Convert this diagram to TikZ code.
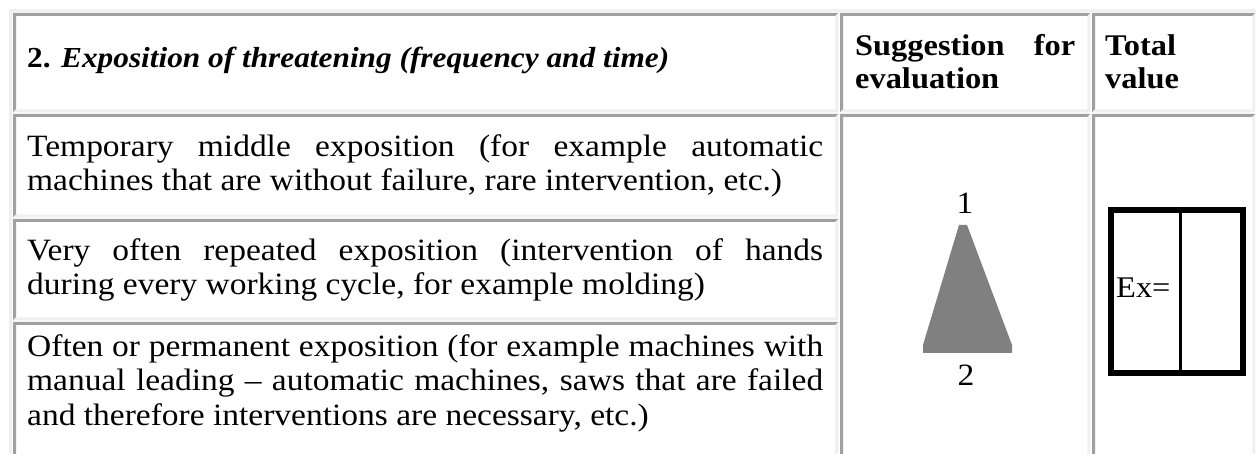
\documentclass[tikz,border=0pt]{standalone}
\usepackage{fontspec}
\setmainfont{Liberation Serif}[FakeStretch=1.08]
\definecolor{rimdark}{HTML}{A0A0A0}
\definecolor{rimlight}{HTML}{F0F0F0}
\definecolor{spike}{HTML}{808080}
\tikzset{
  cell/.style={rectangle, fill=white, inner sep=0pt, anchor=north west},
  txt/.style={inner sep=0pt, anchor=west, font=\fontsize{31}{34.5}\selectfont},
  par/.style={txt, align=justify, text width=#1},
}
\begin{document}
\begin{tikzpicture}[x=1pt,y=-1pt]
  \useasboundingbox (0,0) rectangle (1256,454);
  \clip (0,0) rectangle (1256,454);
  \fill[white] (0,0) rectangle (1256,454);
  % outer rim of the table
  \fill[rimlight] (9,480) -- (9,9) -- (1262,9) -- (1262,12) -- (12,12) -- (12,480) -- cycle;

  % cells
  \node[cell, minimum width=825pt, minimum height=99pt]  (h1) at (13,13)   {};
  \node[cell, minimum width=250pt, minimum height=99pt]  (h2) at (840,13)  {};
  \node[cell, minimum width=163pt, minimum height=99pt]  (h3) at (1092,13) {};
  \node[cell, minimum width=825pt, minimum height=103pt] (r1) at (13,114)  {};
  \node[cell, minimum width=825pt, minimum height=101pt] (r2) at (13,219)  {};
  \node[cell, minimum width=825pt, minimum height=150pt] (r3) at (13,322)  {};
  \node[cell, minimum width=250pt, minimum height=358pt] (c2) at (840,114) {};
  \node[cell, minimum width=163pt, minimum height=358pt] (c3) at (1092,114) {};

  \foreach \c in {h1,h2,h3,r1,r2,r3,c2,c3}{
    \fill[rimdark] (\c.south west) -- (\c.north west) -- (\c.north east)
      -- ([shift={(-3pt,-3pt)}]\c.north east) -- ([shift={(3pt,-3pt)}]\c.north west)
      -- ([shift={(3pt,3pt)}]\c.south west) -- cycle;
    \fill[rimlight] (\c.south west) -- (\c.south east) -- (\c.north east)
      -- ([shift={(-3pt,-3pt)}]\c.north east) -- ([shift={(-3pt,3pt)}]\c.south east)
      -- ([shift={(3pt,3pt)}]\c.south west) -- cycle;
  }

  % header
  \node[txt, font=\fontsize{29}{34.5}\selectfont\bfseries] (hd1) at (27,60)
    {2. \textit{Exposition of threatening (frequency and time)}};
  \node[par=220pt, font=\fontsize{30}{33}\selectfont\bfseries] (hd2) at (855,62)
    {Suggestion for\linebreak evaluation};
  \node[txt, align=left, font=\fontsize{30}{33}\selectfont\bfseries] (hd3) at (1105,62)
    {Total\\value};

  % rows
  \node[par=796pt] (t1) at (27,166)
    {Temporary middle exposition (for example automatic\linebreak
     machines that are without failure, rare intervention, etc.)};
  \node[par=796pt] (t2) at (27,270)
    {Very often repeated exposition (intervention of hands\linebreak
     during every working cycle, for example molding)};
  \node[par=796pt] (t3) at (27,383)
    {Often or permanent exposition (for example machines with\linebreak
     manual leading -- automatic machines, saws that are failed\linebreak
     and therefore interventions are necessary, etc.)};

  % scale
  \node[txt, anchor=center] (one) at (965,203) {1};
  \node[txt, anchor=center] (two) at (966,375) {2};
  \fill[spike] (923,353) -- (923,345) -- (959,225) -- (967,225)
    -- (1012,345) -- (1012,353) -- cycle;

  % result box
  \node[draw, line width=6pt, inner sep=0pt, anchor=north west,
        minimum width=132pt, minimum height=163pt] (exbox) at (1108,207) {};
  \draw[line width=3pt] ([xshift=3.5pt]exbox.north) -- ([xshift=3.5pt]exbox.south);
  \node[txt, font=\fontsize{30}{34.5}\selectfont] (ex) at (1116,288) {Ex=};
\end{tikzpicture}
\end{document}
